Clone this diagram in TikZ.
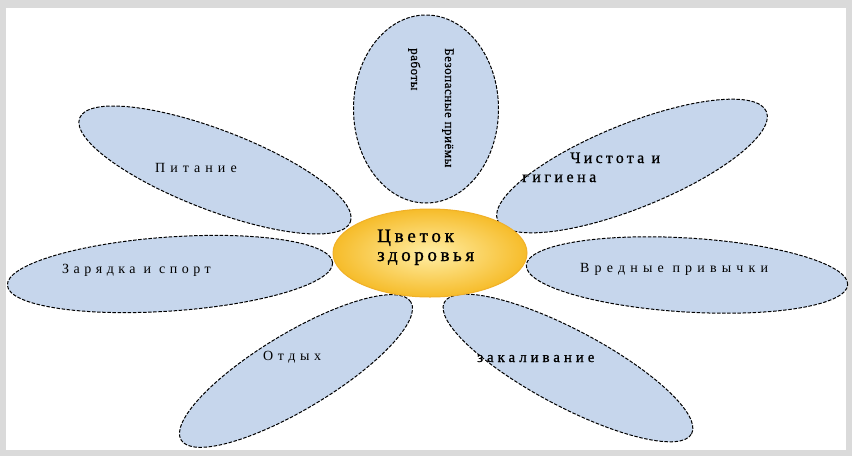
\documentclass[tikz,border=0pt]{standalone}
\usepackage{fontspec}
\usetikzlibrary{shapes.geometric}
\setmainfont{Liberation Serif}
\definecolor{petalfill}{RGB}{198,214,236}
\definecolor{framegray}{RGB}{218,218,218}
\definecolor{coreedge}{RGB}{240,176,40}
\definecolor{corein}{RGB}{255,238,165}
\definecolor{coreout}{RGB}{246,188,42}
\newcommand{\lsfont}[2]{\fontsize{#1}{#1}\selectfont\addfontfeature{LetterSpace=#2}}
\begin{document}
\begin{tikzpicture}[x=1pt,y=-1pt,
  petal/.style={ellipse, draw=black, fill=petalfill, dash pattern=on 3.5pt off 1.6pt, line width=1pt, inner sep=0pt},
  lbl/.style={anchor=base west, inner sep=0pt, text=black},
  core/.style={ellipse, draw=coreedge, line width=1pt, inner sep=0pt, shading=radial, inner color=corein, outer color=coreout}
]
\path[use as bounding box] (0,0) rectangle (852,456);
\fill[framegray] (0,0) rectangle (852,456);
\fill[white] (6,8) rectangle (846,450);

% petals
\node[petal, minimum width=145pt, minimum height=188pt] (ptop) at (426,109) {};
\node[petal, minimum width=290pt, minimum height=80pt, rotate=-21] (pul) at (215,170) {};
\node[petal, minimum width=290pt, minimum height=84pt, rotate=22] (pur) at (632,166) {};
\node[petal, minimum width=326pt, minimum height=74pt, rotate=4] (pl) at (170,274) {};
\node[petal, minimum width=322pt, minimum height=74pt, rotate=-3.5] (pr) at (687,275) {};
\node[petal, minimum width=268pt, minimum height=76pt, rotate=31] (pbl) at (296,371) {};
\node[petal, minimum width=280pt, minimum height=76pt, rotate=-28] (pbr) at (568,368) {};

% centre
\node[core, minimum width=194pt, minimum height=88pt] (core) at (430,253) {};

% labels
\node[lbl, rotate=-90, font={\lsfont{13}{4}\addfontfeature{FakeBold=0.6}}] (ttop1) at (445,48) {Безопасные приёмы};
\node[lbl, rotate=-90, font={\lsfont{13}{4}\addfontfeature{FakeBold=0.6}}] (ttop2) at (411,48) {работы};
\node[lbl, font={\lsfont{14}{36}}] (tul) at (155,172) {Питание};
\node[lbl, font={\lsfont{16}{20}\addfontfeature{FakeBold=0.8}}] (tur1) at (570,163) {Чистота и};
\node[lbl, font={\lsfont{16}{22}\addfontfeature{FakeBold=0.8}}] (tur2) at (522,182) {гигиена};
\node[lbl, font={\lsfont{14}{32}}] (tl) at (62,273) {Зарядка и спорт};
\node[lbl, font={\lsfont{14}{37}}] (tr) at (580,272) {Вредные привычки};
\node[lbl, font={\lsfont{14}{33}}] (tbl) at (263,360) {Отдых};
\node[lbl, font={\lsfont{15}{26}\addfontfeature{FakeBold=0.8}}] (tbr) at (477,362) {закаливание};
\node[lbl, font={\lsfont{19}{20}\addfontfeature{FakeBold=1.2}}] (tc1) at (377,242) {Цветок};
\node[lbl, font={\lsfont{19}{19}\addfontfeature{FakeBold=1.2}}] (tc2) at (377,261) {здоровья};
\end{tikzpicture}
\end{document}
